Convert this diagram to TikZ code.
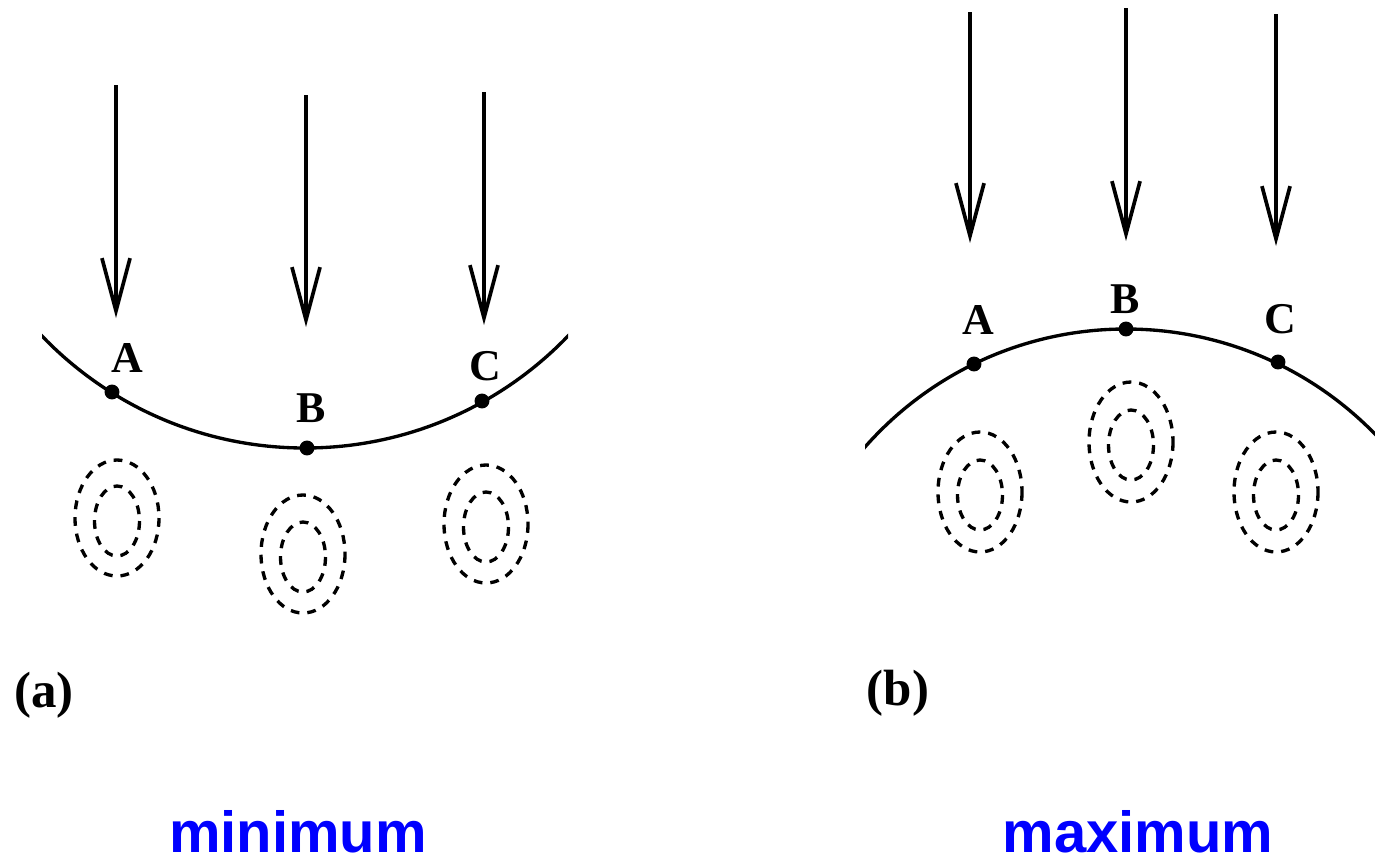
\documentclass[tikz,border=0pt]{standalone}
\usepackage{fontspec}
\setmainfont{Liberation Serif}
\setsansfont{Liberation Sans}
\usetikzlibrary{arrows.meta}

\begin{document}
\begin{tikzpicture}[
  x=0.02cm, y=-0.02cm,
  curve/.style={line width=1.9pt},
  arrow/.style={-{Straight Barb[length=30pt,width=16pt,line width=2.1pt]}, line width=1.9pt},
  dot/.style={circle, fill=black, inner sep=0pt, minimum size=8.5pt},
  ptlabel/.style={font=\fontsize{25}{25}\selectfont\bfseries, inner sep=0pt},
  panellabel/.style={font=\fontsize{29}{29}\selectfont\bfseries, inner sep=0pt},
  caption/.style={font=\fontsize{33}{33}\selectfont\sffamily\bfseries, text=blue, inner sep=0pt, anchor=base},
  ring/.style={dash pattern=on 5pt off 4.5pt, line width=1.9pt}
]
\useasboundingbox (0,0) rectangle (1375,863);

% (a) minimum
\begin{scope}
  \clip (42,300) rectangle (568,500);
  \draw[curve] (305,83.2) circle[radius=364.8];
\end{scope}

\draw[arrow] (116,85) -- (116,318);
\draw[arrow] (306,95) -- (306,327);
\draw[arrow] (484,92) -- (484,325);

\node[dot] (minA) at (112,392) {};
\node[dot] (minB) at (307,448) {};
\node[dot] (minC) at (482,401) {};

\node[ptlabel] (minAlabel) at (127,358) {A};
\node[ptlabel] (minBlabel) at (311,408) {B};
\node[ptlabel] (minClabel) at (485,366) {C};

\draw[ring] (117,518) ellipse[x radius=42, y radius=58];
\draw[ring] (117,521) ellipse[x radius=22.5, y radius=35];
\draw[ring] (303,554) ellipse[x radius=42, y radius=59];
\draw[ring] (303,557) ellipse[x radius=22.5, y radius=35];
\draw[ring] (486,524) ellipse[x radius=42, y radius=59];
\draw[ring] (486,527) ellipse[x radius=22.5, y radius=35];

\node[panellabel] (minPanel) at (44,695) {(a)};
\node[caption] (minCaption) at (298,852) {minimum};

% (b) maximum
\begin{scope}
  \clip (865,250) rectangle (1376,460);
  \draw[curve] (1126,676.6) circle[radius=347.6];
\end{scope}

\draw[arrow] (970,12) -- (970,243);
\draw[arrow] (1126,8) -- (1126,241);
\draw[arrow] (1276,14) -- (1276,246);

\node[dot] (maxA) at (974,364) {};
\node[dot] (maxB) at (1126,329) {};
\node[dot] (maxC) at (1278,362) {};

\node[ptlabel] (maxAlabel) at (978,320) {A};
\node[ptlabel] (maxBlabel) at (1125,299) {B};
\node[ptlabel] (maxClabel) at (1280,319) {C};

\draw[ring] (980,492) ellipse[x radius=42, y radius=60];
\draw[ring] (980,495) ellipse[x radius=22.5, y radius=35];
\draw[ring] (1131,442) ellipse[x radius=42, y radius=60];
\draw[ring] (1131,445) ellipse[x radius=22.5, y radius=35];
\draw[ring] (1276,492) ellipse[x radius=42, y radius=60];
\draw[ring] (1276,495) ellipse[x radius=22.5, y radius=35];

\node[panellabel] (maxPanel) at (898,693) {(b)};
\node[caption] (maxCaption) at (1138,852) {maximum};

\end{tikzpicture}
\end{document}
